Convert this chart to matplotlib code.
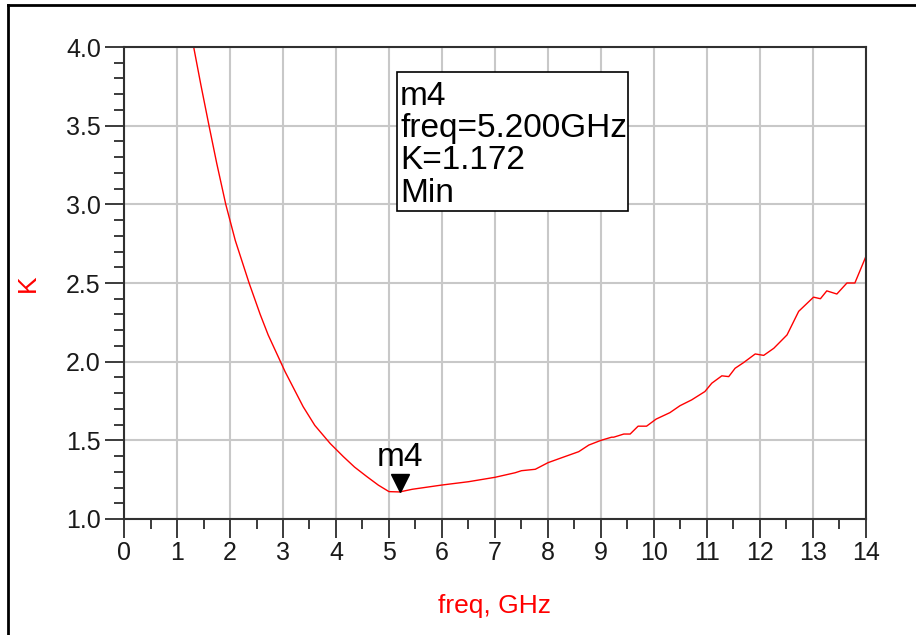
import matplotlib
matplotlib.use("Agg")
import matplotlib.pyplot as plt
import matplotlib.transforms as mtransforms
from matplotlib.patches import Rectangle
from matplotlib.lines import Line2D
import numpy as np

plt.rcParams['font.family'] = ['Liberation Sans', 'DejaVu Sans']

# K vs frequency
freq = [1.30, 1.32, 1.45, 1.61, 1.75, 1.92, 2.10, 2.36, 2.57, 2.72, 3.04, 3.38,
        3.60, 3.89, 4.14, 4.35, 4.58, 4.80, 5.00, 5.20, 5.44, 6.00, 6.50, 7.00,
        7.38, 7.50, 7.76, 8.00, 8.23, 8.58, 8.77, 9.00, 9.20, 9.24, 9.43, 9.55,
        9.70, 9.86, 10.04, 10.30, 10.49, 10.71, 10.96, 11.09, 11.28, 11.41,
        11.53, 11.69, 11.91, 12.07, 12.26, 12.51, 12.73, 13.01, 13.14, 13.26,
        13.45, 13.64, 13.79, 14.00]
K = [4.05, 3.99, 3.76, 3.49, 3.26, 3.00, 2.77, 2.50, 2.30, 2.17, 1.936, 1.714,
     1.595, 1.48, 1.396, 1.33, 1.27, 1.215, 1.174, 1.172, 1.189, 1.216, 1.237,
     1.265, 1.294, 1.307, 1.316, 1.358, 1.386, 1.428, 1.47, 1.50, 1.52, 1.52,
     1.54, 1.54, 1.59, 1.59, 1.635, 1.676, 1.72, 1.757, 1.81, 1.863, 1.91,
     1.905, 1.958, 1.994, 2.049, 2.04, 2.085, 2.17, 2.32, 2.41, 2.40, 2.45,
     2.43, 2.50, 2.50, 2.67]

m4_freq = 5.200
m4_K = 1.172
box_lines = ["m4", "freq=5.200GHz", "K=1.172", "Min"]

red = '#ff0000'
dark = '#1a1a1a'

fig = plt.figure(figsize=(9.16, 6.35), dpi=100)
ax = fig.add_axes([124/916, 1 - 519/635, 742/916, 472/635])

ax.plot(freq, K, color=red, lw=1.0, clip_on=True)

ax.set_xlim(0, 14)
ax.set_ylim(1.0, 4.0)
ax.set_xticks(np.arange(0, 15, 1))
ax.set_xticks(np.arange(0, 14.01, 0.5), minor=True)
ax.set_yticks(np.arange(1.0, 4.01, 0.5))
ax.set_yticks(np.arange(1.0, 4.01, 0.1), minor=True)
ax.set_yticklabels(["%.1f" % v for v in np.arange(1.0, 4.01, 0.5)])

ax.grid(True, which='major', color='#c8c8c8', lw=1.5)
ax.set_axisbelow(True)
for s in ax.spines.values():
    s.set_color('#303030')
    s.set_linewidth(1.5)

ax.tick_params(which='major', direction='out', length=13.7, width=1.2, color=dark,
               labelsize=18, labelcolor=dark, pad=3)
ax.tick_params(which='minor', direction='out', length=7.2, width=1.2, color=dark)
ax.tick_params(axis='x', which='major', pad=2)

ax.set_xlabel("freq, GHz", color=red, fontsize=19)
ax.set_ylabel("K", color=red, fontsize=19)
ax.xaxis.set_label_coords(0.5, -0.158)
ax.yaxis.set_label_coords(-0.113, 0.5)

# marker m4
tri = mtransforms.offset_copy(ax.transData, fig=fig, x=0, y=9, units='dots')
ax.plot([m4_freq], [m4_K], marker='v', ms=13, color='black', transform=tri,
        clip_on=False)
ax.text(m4_freq, m4_K, "m4", transform=mtransforms.offset_copy(
        ax.transData, fig=fig, x=0, y=19, units='dots'),
        ha='center', va='bottom', fontsize=24, color='black')

# marker readout box
ax.add_patch(Rectangle((0.368, 0.6525), 0.311, 0.2945, transform=ax.transAxes,
                       fill=True, facecolor='white', edgecolor='black', lw=1.2,
                       zorder=5))
for i, t in enumerate(box_lines):
    ax.text(0.372, 0.896 - i * 0.0685, t, transform=ax.transAxes, fontsize=24,
            ha='left', va='center', color='black', zorder=6)

# partial frame around the figure
fig.add_artist(Line2D([8/916, 8/916], [0, 1 - 5/635], transform=fig.transFigure,
                      color='black', lw=2))
fig.add_artist(Line2D([8/916, 1], [1 - 5/635, 1 - 5/635], transform=fig.transFigure,
                      color='black', lw=2))

fig.savefig("out.png", dpi=100)
